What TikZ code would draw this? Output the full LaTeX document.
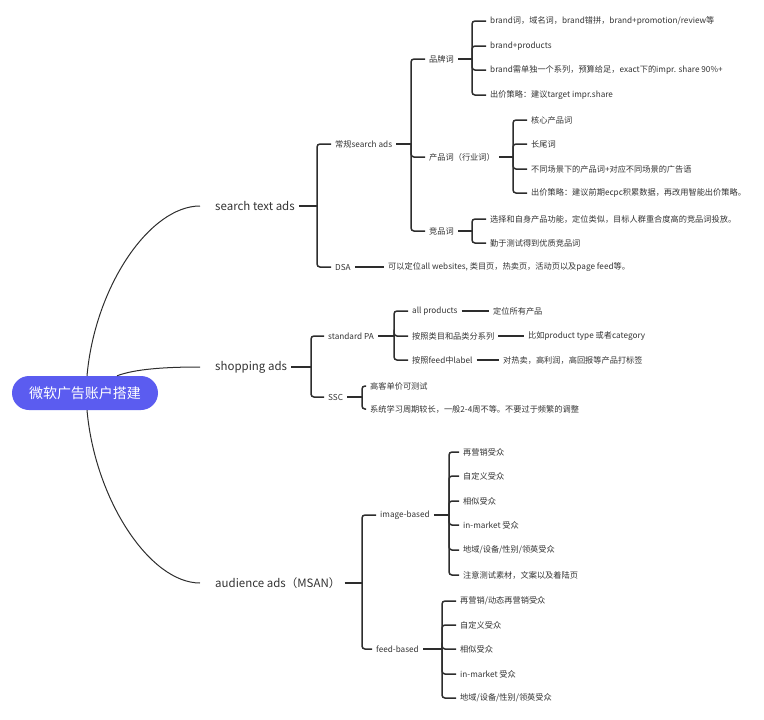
\documentclass[tikz,border=0pt]{standalone}
\usepackage{fontspec}
\setmainfont{Noto Sans CJK SC}
\usetikzlibrary{calc}

\definecolor{rootblue}{RGB}{91,92,240}
\definecolor{txt}{RGB}{51,51,51}
\definecolor{ln}{RGB}{45,45,45}

\tikzset{root/.style={fill=rootblue, text=white, rounded corners=17pt,
                      minimum width=146pt, minimum height=34pt,
                      font=\fontsize{14}{16}\selectfont}}
\tikzset{topic/.style={anchor=west, inner xsep=4pt, inner ysep=1pt, text=txt,
                       font=\fontsize{11.5}{13}\selectfont}}
\tikzset{item/.style={anchor=west, inner xsep=4pt, inner ysep=1pt, text=txt,
                      font=\fontsize{8.2}{9.8}\selectfont}}
\tikzset{link/.style={draw=ln, line width=1.5pt, rounded corners=3pt}}
\tikzset{rootlink/.style={draw=ln, line width=1pt, shorten >=11pt}}

\begin{document}
\begin{tikzpicture}[x=1pt, y=-1pt]

\useasboundingbox (0,0) rectangle (764,720);

% root and main topics
\node[root] (root) at (85,393) {微软广告账户搭建};

\node[topic] (st) at (211,206) {search text ads};
\node[topic] (sh) at (211,367) {shopping ads};
\node[topic] (au) at (211,583) {audience ads（MSAN）};

\draw[rootlink] ([xshift=2pt]root.north) .. controls (95,286) and (150,206) .. (st.west);
\draw[rootlink] ([xshift=32pt]root.north) .. controls (135,369) and (165,367) .. (sh.west);
\draw[rootlink] ([xshift=2pt]root.south) .. controls (95,500) and (150,583) .. (au.west);

%search text ads
\coordinate (stj) at (317,206);
\node[item] (cg)  at (331,144) {常规search ads};
\node[item] (dsa) at (331,267) {DSA};
\node[item] (dsad) at (384,267) {可以定位all websites, 类目页，热卖页，活动页以及page feed等。};
\draw[link] (st.east) -- (stj);
\draw[link] (stj) |- (cg.west);
\draw[link] (stj) |- (dsa.west);
\draw[link] (dsa.east) -- (dsad.west);

\coordinate (cgj) at (411,144);
\node[item] (pp) at (425,59)  {品牌词};
\node[item] (cp) at (425,157) {产品词（行业词）};
\node[item] (jp) at (425,231) {竞品词};
\draw[link] (cg.east) -- (cgj);
\foreach \n in {pp,cp,jp}
  \draw[link] (cgj) |- (\n.west);

% brand words
\coordinate (ppj) at (472,59);
\foreach \y/\t [count=\i] in {21/{brand词，域名词，brand错拼，brand+promotion/review等},
                              46/{brand+products},
                              70/{brand需单独一个系列，预算给足，exact下的impr. share 90\%+},
                              95/{出价策略：建议target impr.share}}
  \node[item] (pp\i) at (486,\y) {\t};
\draw[link] (pp.east) -- (ppj);
\foreach \i in {1,...,4}
  \draw[link] (ppj) |- (pp\i.west);

% product words
\coordinate (cpj) at (513,157);
\foreach \y/\t [count=\i] in {120/{核心产品词},
                              144/{长尾词},
                              169/{不同场景下的产品词+对应不同场景的广告语},
                              193/{出价策略：建议前期ecpc积累数据，再改用智能出价策略。}}
  \node[item] (cp\i) at (527,\y) {\t};
\draw[link] (cp.east) -- (cpj);
\foreach \i in {1,...,4}
  \draw[link] (cpj) |- (cp\i.west);

% competitor words
\coordinate (jpj) at (472,231);
\foreach \y/\t [count=\i] in {219/{选择和自身产品功能，定位类似，目标人群重合度高的竞品词投放。},
                              243/{勤于测试得到优质竞品词}}
  \node[item] (jp\i) at (486,\y) {\t};
\draw[link] (jp.east) -- (jpj);
\foreach \i in {1,2}
  \draw[link] (jpj) |- (jp\i.west);

%shopping ads
\coordinate (shj) at (311,367);
\node[item] (spa) at (324,336) {standard PA};
\node[item] (ssc) at (324,397) {SSC};
\draw[link] (sh.east) -- (shj);
\draw[link] (shj) |- (spa.west);
\draw[link] (shj) |- (ssc.west);

\coordinate (spaj) at (394,336);
\node[item] (ap)  at (408,311) {all products};
\node[item] (lm)  at (408,336) {按照类目和品类分系列};
\node[item] (fl)  at (408,360) {按照feed中label};
\node[item] (apd) at (489,311) {定位所有产品};
\node[item] (lmd) at (524,336) {比如product type 或者category};
\node[item] (fld) at (499,360) {对热卖，高利润，高回报等产品打标签};
\draw[link] (spa.east) -- (spaj);
\foreach \n in {ap,lm,fl}{
  \draw[link] (spaj) |- (\n.west);
  \draw[link] (\n.east) -- (\n d.west);
}

\coordinate (sscj) at (362,397);
\node[item] (ssc1) at (366,386) {高客单价可测试};
\node[item] (ssc2) at (366,409) {系统学习周期较长，一般2-4周不等。不要过于频繁的调整};
\draw[link] (ssc.east) -- (sscj);
\foreach \i in {1,2}
  \draw[link] (sscj) |- (ssc\i.west);

%audience ads
\coordinate (auj) at (362,583);
\node[item] (ib) at (376,515) {image-based};
\node[item] (fb) at (372,649) {feed-based};
\draw[link] (au.east) -- (auj);
\draw[link] (auj) |- (ib.west);
\draw[link] (auj) |- (fb.west);

\coordinate (ibj) at (449,515);
\foreach \y/\t [count=\i] in {452/{再营销受众},
                              476/{自定义受众},
                              501/{相似受众},
                              525/{in-market 受众},
                              550/{地域/设备/性别/领英受众},
                              575/{注意测试素材，文案以及着陆页}}
  \node[item] (ib\i) at (459,\y) {\t};
\draw[link] (ib.east) -- (ibj);
\foreach \i in {1,...,6}
  \draw[link] (ibj) |- (ib\i.west);

\coordinate (fbj) at (442,649);
\foreach \y/\t [count=\i] in {601/{再营销/动态再营销受众},
                              625/{自定义受众},
                              649/{相似受众},
                              674/{in-market 受众},
                              698/{地域/设备/性别/领英受众}}
  \node[item] (fb\i) at (456,\y) {\t};
\draw[link] (fb.east) -- (fbj);
\foreach \i in {1,...,5}
  \draw[link] (fbj) |- (fb\i.west);

\end{tikzpicture}
\end{document}
